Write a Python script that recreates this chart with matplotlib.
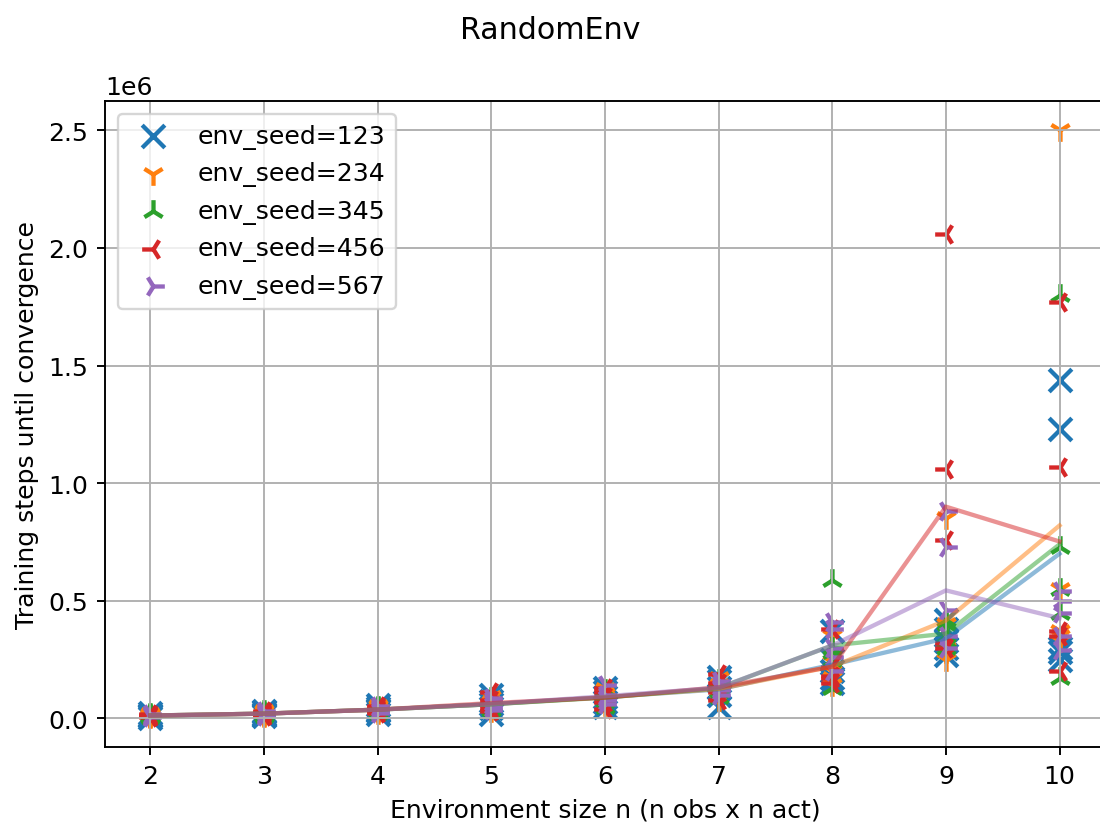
import matplotlib
matplotlib.use("Agg")
import matplotlib.pyplot as plt
import numpy as np

# environment sizes and seeds
env_sizes = [2, 3, 4, 5, 6, 7, 8, 9, 10]
env_seeds = [123, 234, 345, 456, 567]
markers = ['x', '1', '2', '3', '4']

# training steps until convergence (x 1e6), 5 runs per env size
runs_123 = [[0.003, 0.008, 0.012, 0.016, 0.021],
            [0.008, 0.014, 0.020, 0.025, 0.033],
            [0.020, 0.030, 0.036, 0.043, 0.056],
            [0.020, 0.045, 0.060, 0.075, 0.100],
            [0.050, 0.070, 0.090, 0.110, 0.130],
            [0.050, 0.100, 0.130, 0.160, 0.175],
            [0.370, 0.250, 0.200, 0.170, 0.150],
            [0.420, 0.380, 0.330, 0.300, 0.270],
            [1.440, 1.230, 0.300, 0.280, 0.250]]
runs_234 = [[0.004, 0.009, 0.012, 0.015, 0.020],
            [0.010, 0.015, 0.020, 0.024, 0.031],
            [0.022, 0.030, 0.037, 0.044, 0.052],
            [0.030, 0.050, 0.060, 0.070, 0.090],
            [0.055, 0.075, 0.090, 0.105, 0.125],
            [0.080, 0.110, 0.125, 0.140, 0.170],
            [0.350, 0.240, 0.200, 0.170, 0.140],
            [0.850, 0.400, 0.300, 0.280, 0.250],
            [2.500, 0.550, 0.370, 0.350, 0.330]]
runs_345 = [[0.005, 0.009, 0.012, 0.015, 0.019],
            [0.011, 0.016, 0.020, 0.023, 0.030],
            [0.024, 0.032, 0.037, 0.042, 0.050],
            [0.035, 0.050, 0.060, 0.070, 0.085],
            [0.050, 0.075, 0.090, 0.105, 0.120],
            [0.090, 0.115, 0.130, 0.145, 0.165],
            [0.590, 0.300, 0.280, 0.250, 0.130],
            [0.420, 0.400, 0.350, 0.330, 0.300],
            [1.800, 0.730, 0.550, 0.450, 0.170]]
runs_456 = [[0.004, 0.008, 0.012, 0.016, 0.020],
            [0.009, 0.015, 0.020, 0.025, 0.031],
            [0.021, 0.031, 0.037, 0.043, 0.053],
            [0.030, 0.045, 0.060, 0.080, 0.110],
            [0.040, 0.070, 0.090, 0.110, 0.130],
            [0.080, 0.110, 0.130, 0.150, 0.190],
            [0.380, 0.220, 0.180, 0.170, 0.150],
            [2.060, 1.060, 0.760, 0.320, 0.300],
            [1.770, 1.070, 0.370, 0.350, 0.200]]
runs_567 = [[0.005, 0.009, 0.012, 0.015, 0.019],
            [0.010, 0.016, 0.020, 0.024, 0.030],
            [0.023, 0.031, 0.037, 0.043, 0.051],
            [0.035, 0.050, 0.060, 0.072, 0.085],
            [0.060, 0.080, 0.090, 0.100, 0.140],
            [0.100, 0.120, 0.130, 0.140, 0.160],
            [0.410, 0.380, 0.300, 0.260, 0.200],
            [0.880, 0.730, 0.460, 0.350, 0.300],
            [0.540, 0.500, 0.450, 0.350, 0.290]]
all_runs = [runs_123, runs_234, runs_345, runs_456, runs_567]

plt.rcParams['font.size'] = 10.5

fig = plt.figure(figsize=(1100 / 172, 824 / 172), dpi=172)
ax = fig.add_axes([105 / 1100, 76 / 824, 1000 / 1100, 646 / 824])

for i, (seed, runs) in enumerate(zip(env_seeds, all_runs)):
    runs = np.array(runs) * 1e6
    color = 'C%d' % i
    xs = np.repeat(env_sizes, runs.shape[1])
    ax.scatter(xs, runs.flatten(), marker=markers[i], s=90, color=color,
               linewidths=1.8, label='env_seed=%d' % seed)
    ax.plot(env_sizes, runs.mean(axis=1), color=color, alpha=0.5, linewidth=1.8)

ax.grid(True)
ax.set_xticks(env_sizes)
ax.set_xlabel("Environment size n (n obs x n act)")
ax.set_ylabel("Training steps until convergence")
ax.legend(loc='upper left')
fig.suptitle("RandomEnv", fontsize=12.6)

fig.savefig("out.png")
